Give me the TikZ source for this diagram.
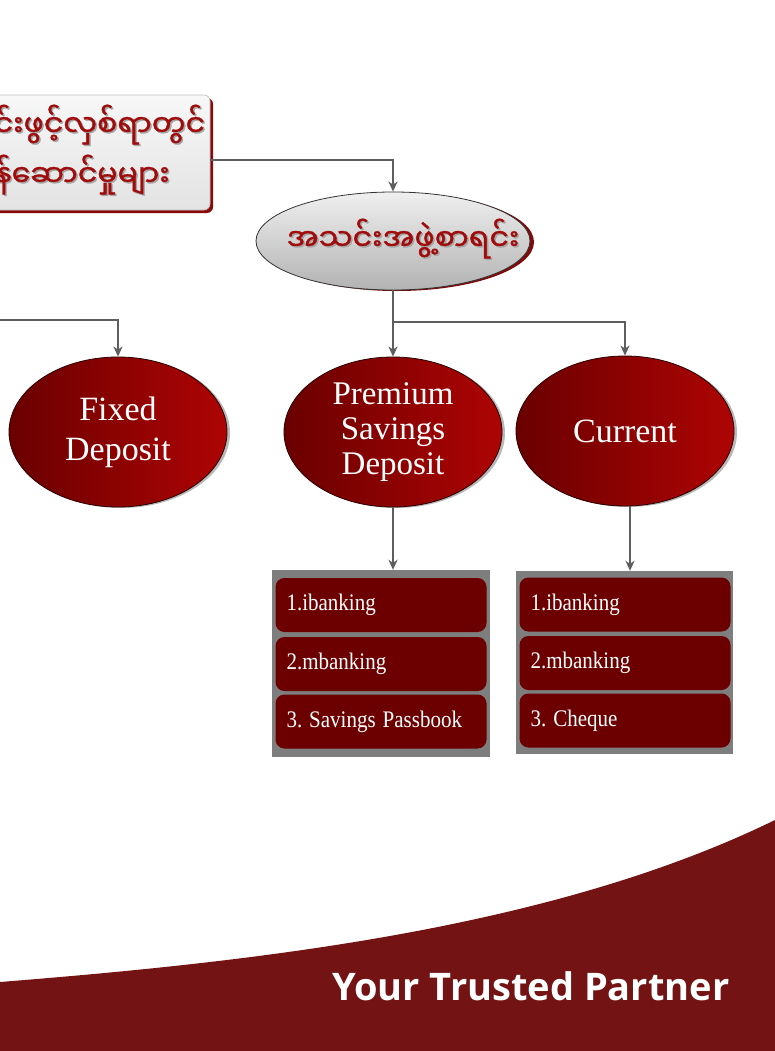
\documentclass[tikz,border=0pt]{standalone}
\usepackage{fontspec}
\setmainfont{Liberation Serif}
\newfontfamily\myan[Script=Myanmar, AutoFakeBold=1.2]{Noto Sans Myanmar UI}
\newfontfamily\tagfont{Open Sans}
\usetikzlibrary{arrows.meta,shapes.geometric,shadows,calc}
\definecolor{redL}{HTML}{6A0000}
\definecolor{redR}{HTML}{AE0404}
\definecolor{rowred}{HTML}{6C0000}
\definecolor{bandred}{HTML}{731313}
\definecolor{myred}{HTML}{A00C0C}
\definecolor{conncol}{HTML}{5E5E5E}
\definecolor{panelgray}{HTML}{7E7E7E}
\tikzset{
  conn/.style={draw=conncol, line width=1.8pt, -{Stealth[length=10pt,width=9pt,inset=3pt]}},
  redell/.style={ellipse, minimum width=218pt, minimum height=150pt, inner sep=0pt,
    left color=redL, right color=redR, draw=black!60!redL, line width=0.8pt,
    text=white, align=center,
    drop shadow={shadow xshift=3pt, shadow yshift=-1pt, fill=gray!55, opacity=1}},
  grayell/.style={ellipse, minimum width=274pt, minimum height=98pt, inner sep=0pt,
    top color=gray!12, bottom color=gray!60, draw=gray!40!black, line width=0.8pt,
    drop shadow={shadow xshift=4pt, shadow yshift=-1pt, fill=myred!80!black, opacity=1}},
  svcbox/.style={rectangle, rounded corners=6pt, minimum width=270pt, minimum height=115pt,
    top color=gray!6, bottom color=gray!22, draw=gray!50, line width=0.6pt,
    drop shadow={shadow xshift=3pt, shadow yshift=-3pt, fill=myred!85!black, opacity=1}},
  panel/.style={rectangle, fill=panelgray, inner sep=0pt},
  rowbox/.style={rectangle, rounded corners=9pt, fill=rowred, minimum width=211pt,
    minimum height=54pt, text width=189pt, inner xsep=11pt, align=left, text=white,
    font=\frenchspacing\fontsize{21}{24}\selectfont},
  mytext/.style={text=myred, font=\myan\bfseries\fontsize{30}{50}\selectfont, align=center},
  myshadow/.style={text=gray!70, font=\myan\bfseries\fontsize{30}{50}\selectfont, align=center},
}
\newcommand{\tallrow}[1]{\scalebox{1}[1.13]{#1}}
\begin{document}
\begin{tikzpicture}[x=1pt,y=-1pt]
\useasboundingbox (0,0) rectangle (775,1051);
\clip (0,0) rectangle (775,1051);
% bottom band
\fill[bandred] (0,1051) -- (0,982) .. controls (250,962) and (550,930) .. (775,820) -- (775,1051) -- cycle;
\node[anchor=base west, text=white, font=\tagfont\bfseries\fontsize{38}{44}\selectfont] (tag) at (329,1000) {Your Trusted Partner};

% top box
\node[svcbox] (svc) at (75,152.5) {};
\node[myshadow] (svctxs) at (73.5,151) {စာရင်းဖွင့်လှစ်ရာတွင်\\ဝန်ဆောင်မှုများ};
\node[mytext] (svctx) at (72,149.5) {စာရင်းဖွင့်လှစ်ရာတွင်\\ဝန်ဆောင်မှုများ};

% gray ellipse
\node[grayell] (mem) at (393,241) {};
\node[myshadow] (memtxs) at (404.5,240) {အသင်းအဖွဲ့စာရင်း};
\node[mytext] (memtx) at (403,238.5) {အသင်းအဖွဲ့စာရင်း};

% red ellipses
\node[redell, font=\fontsize{34}{40}\selectfont] (fix) at (118,432) {Fixed\\Deposit};
\node[redell, font=\fontsize{33}{35}\selectfont] (prem) at (393,432) {Premium\\Savings\\Deposit};
\node[redell, font=\fontsize{34}{40}\selectfont] (cur) at (625,431) {Current};

% panels
\node[panel, minimum width=218pt, minimum height=187pt] (p1) at (381,663.5) {};
\node[rowbox] (p1a) at (381,605) {\tallrow{1.ibanking}};
\node[rowbox] (p1b) at (381,664) {\tallrow{2.mbanking}};
\node[rowbox] (p1c) at (381,721.5) {\tallrow{3. Savings Passbook}};
\node[panel, minimum width=217pt, minimum height=183pt] (p2) at (624.5,662.5) {};
\node[rowbox, minimum width=210pt] (p2a) at (625,604.5) {\tallrow{1.ibanking}};
\node[rowbox, minimum width=210pt] (p2b) at (625,663) {\tallrow{2.mbanking}};
\node[rowbox, minimum width=210pt] (p2c) at (625,720.5) {\tallrow{3. Cheque}};

% connectors
\coordinate (svcout) at (210,160);
\coordinate (br) at (393,322);
\coordinate (lft) at (0,320);
\draw[conn] (svcout) -| (mem.north);
\draw[conn] (mem.south) -- (prem.north);
\draw[conn] (br) -| (cur.north);
\draw[conn] (lft) -| (fix.north);
\draw[conn] (prem.south) -- (prem.south |- p1.north);
\draw[conn] ($(cur.south)+(5,0)$) -- ($(cur.south |- p2.north)+(5,0)$);
\end{tikzpicture}
\end{document}
